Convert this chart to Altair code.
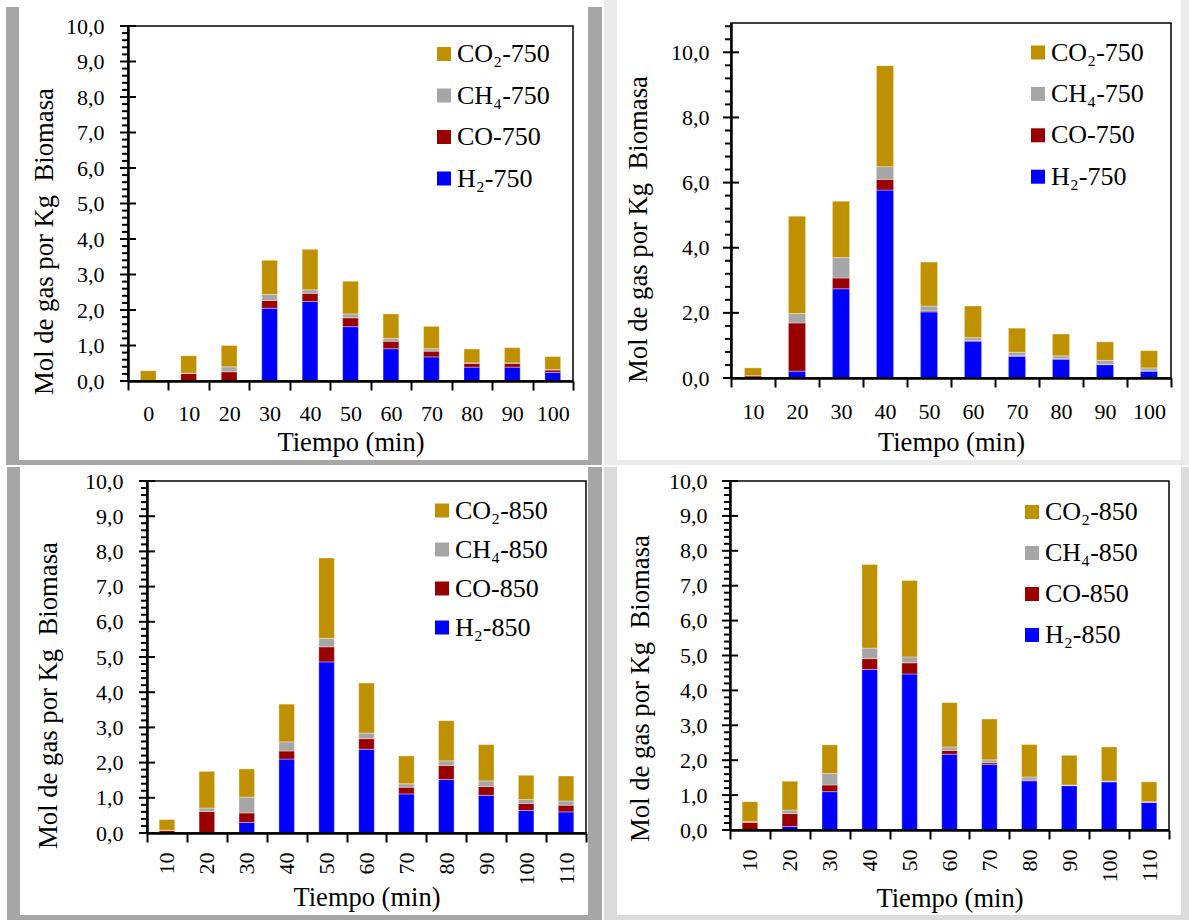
import altair as alt
import pandas as pd

FONT = "Liberation Serif"

# Gas series: legend order (top to bottom) and bar colours
GAS_LEGEND = ["CO₂", "CH₄", "CO", "H₂"]
GAS_COLORS = ["#BF9000", "#A6A6A6", "#990000", "#0000FF"]
# stacking order from the bottom of each bar
GAS_STACK = ["H₂", "CO", "CH₄", "CO₂"]

# --- 750 °C, first run ---
time_a = [0, 10, 20, 30, 40, 50, 60, 70, 80, 90, 100]
h2_a = [0.00, 0.00, 0.00, 2.05, 2.24, 1.53, 0.91, 0.68, 0.39, 0.39, 0.24]
co_a = [0.00, 0.21, 0.26, 0.22, 0.23, 0.25, 0.21, 0.16, 0.11, 0.11, 0.07]
ch4_a = [0.00, 0.01, 0.14, 0.17, 0.10, 0.11, 0.08, 0.07, 0.01, 0.01, 0.01]
co2_a = [0.29, 0.49, 0.60, 0.96, 1.14, 0.92, 0.69, 0.63, 0.39, 0.43, 0.37]

# --- 750 °C, second run ---
time_b = [10, 20, 30, 40, 50, 60, 70, 80, 90, 100]
h2_b = [0.00, 0.21, 2.74, 5.77, 2.03, 1.13, 0.67, 0.58, 0.41, 0.21]
co_b = [0.07, 1.48, 0.33, 0.33, 0.03, 0.02, 0.01, 0.01, 0.01, 0.01]
ch4_b = [0.00, 0.29, 0.63, 0.39, 0.15, 0.09, 0.11, 0.09, 0.12, 0.09]
co2_b = [0.24, 2.99, 1.73, 3.10, 1.35, 0.97, 0.74, 0.67, 0.57, 0.53]

# --- 850 °C, first run ---
time_c = [10, 20, 30, 40, 50, 60, 70, 80, 90, 100, 110]
h2_c = [0.00, 0.00, 0.30, 2.10, 4.86, 2.38, 1.11, 1.52, 1.07, 0.64, 0.60]
co_c = [0.07, 0.61, 0.27, 0.23, 0.43, 0.30, 0.19, 0.40, 0.25, 0.20, 0.19]
ch4_c = [0.01, 0.10, 0.45, 0.26, 0.24, 0.16, 0.10, 0.13, 0.16, 0.11, 0.12]
co2_c = [0.30, 1.04, 0.80, 1.07, 2.28, 1.42, 0.79, 1.14, 1.03, 0.69, 0.71]

# --- 850 °C, second run ---
time_d = [10, 20, 30, 40, 50, 60, 70, 80, 90, 100, 110]
h2_d = [0.00, 0.10, 1.10, 4.60, 4.47, 2.17, 1.88, 1.41, 1.27, 1.38, 0.79]
co_d = [0.22, 0.37, 0.19, 0.31, 0.32, 0.11, 0.05, 0.02, 0.01, 0.01, 0.01]
ch4_d = [0.02, 0.10, 0.33, 0.30, 0.17, 0.10, 0.08, 0.09, 0.01, 0.01, 0.01]
co2_d = [0.57, 0.83, 0.82, 2.40, 2.19, 1.27, 1.17, 0.93, 0.85, 0.98, 0.57]

Y_TITLE = "Mol de gas por Kg\u00a0\u00a0Biomasa"
X_TITLE = "Tiempo (min)"

ONE = pd.DataFrame({"k": [0]})


def long_table(times, h2, co, ch4, co2, temp):
    rows = []
    for gas, vals in zip(GAS_STACK, [h2, co, ch4, co2]):
        for t, v in zip(times, vals):
            rows.append({"t": str(t), "gas": f"{gas}-{temp}",
                         "rank": GAS_STACK.index(gas), "v": v})
    return pd.DataFrame(rows)


def steps(top, step):
    n = int(round(top / step + 1e-9))
    return [round(i * step, 2) for i in range(n + 1)]


def panel(times, h2, co, ch4, co2, temp, *, group, plot, cell, deco, deco_color,
          ymax, major, minor, legend_xy, row_pad, ytitle_xy, xtitle_y,
          ylab_pad, xlab_pad, rotate):
    """One stacked-bar panel.

    group: top-left corner of the view group (page pixels)
    plot:  (left, top, width, height) of the drawn plot box (page pixels)
    cell:  (x0, x1, y0, y1) extent of the panel's white card (page pixels)
    """
    gx, gy = group
    PX, PY, PW, PH = plot
    px, py = PX - gx, PY - gy
    gw, gh = px + PW, py + PH

    df = long_table(times, h2, co, ch4, co2, temp)
    xscale = alt.Scale(paddingInner=0, paddingOuter=0, range=[px, px + PW])
    yscale = alt.Scale(domain=[0, ymax], nice=False, zero=True, range=[py + PH, py])

    majors = steps(ymax // major * major, major)
    minors = [v for v in steps(ymax // minor * minor, minor)
              if all(abs(v - m) > 1e-6 for m in majors)]

    yaxis = alt.Axis(
        title=Y_TITLE, titleFont=FONT, titleFontSize=26.7,
        titleFontWeight="normal", titleColor="black",
        titleAngle=270, titleAlign="center", titleBaseline="middle",
        titleX=ytitle_xy[0] - PX, titleY=ytitle_xy[1] - gy,
        values=majors,
        labelExpr="replace(format(datum.value, '.1f'), '.', ',')",
        labelFont=FONT, labelFontSize=22, labelColor="black",
        labelPadding=ylab_pad, ticks=False, grid=False, offset=-px,
        domainColor="black", domainWidth=2.5, zindex=1)

    xaxis = alt.Axis(
        title=X_TITLE, titleFont=FONT, titleFontSize=26.5,
        titleFontWeight="normal", titleColor="black",
        titleX=PX + PW / 2 - gx, titleY=xtitle_y - (PY + PH),
        titleBaseline="middle",
        labelFont=FONT, labelFontSize=22, labelColor="black",
        labelAngle=270 if rotate else 0, labelPadding=xlab_pad,
        labelOverlap=False,
        tickBand="extent", tickSize=9, tickWidth=2, tickColor="black",
        domainColor="black", domainWidth=2.5, zindex=1)

    def rect(x0, x1, y0, y1, **kw):
        return alt.Chart(ONE).mark_rect(**kw).encode(
            x=alt.value(x0 - gx), x2=alt.value(x1 - gx),
            y=alt.value(y0 - gy), y2=alt.value(y1 - gy))

    layers = [rect(*cell, color="white")]
    for (x0, x1, y0, y1) in deco:
        layers.append(rect(x0, x1, y0, y1, color=deco_color))

    labels = [f"{g}-{temp}" for g in GAS_LEGEND]
    bars = alt.Chart(df).mark_bar(
        width={"band": 0.39}, stroke="white", strokeOpacity=0.35, strokeWidth=1
    ).encode(
        x=alt.X("t:N", sort=[str(t) for t in times], scale=xscale, axis=xaxis),
        y=alt.Y("v:Q", stack="zero", scale=yscale, axis=yaxis),
        color=alt.Color("gas:N", scale=alt.Scale(domain=labels, range=GAS_COLORS),
                        legend=alt.Legend(
                            title=None, orient="none",
                            legendX=legend_xy[0] - gx, legendY=legend_xy[1] - gy,
                            direction="vertical", padding=0,
                            symbolType="square", symbolSize=196,
                            symbolStrokeWidth=0, symbolOpacity=1,
                            labelFont=FONT, labelFontSize=26, labelColor="black",
                            labelOffset=0, rowPadding=row_pad, labelLimit=0)),
        order=alt.Order("rank:Q", sort="ascending"),
    )
    layers.append(bars)

    # major ticks cross the value axis, minor ticks sit outside it
    layers.append(alt.Chart(pd.DataFrame({"v": majors})).mark_rule(
        color="black", strokeWidth=2).encode(
        y=alt.Y("v:Q", scale=yscale, axis=yaxis),
        x=alt.value(px - 8), x2=alt.value(px + 8)))
    layers.append(alt.Chart(pd.DataFrame({"v": minors})).mark_rule(
        color="black", strokeWidth=2).encode(
        y=alt.Y("v:Q", scale=yscale, axis=yaxis),
        x=alt.value(px - 6), x2=alt.value(px)))
    # plot frame
    layers.append(alt.Chart(ONE).mark_rect(
        filled=False, stroke="black", strokeWidth=1.5).encode(
        x=alt.value(px), x2=alt.value(px + PW), y=alt.value(py), y2=alt.value(py + PH)))

    return alt.layer(*layers).properties(width=gw, height=gh)


DARK = "#A6A6A6"

tl = panel(time_a, h2_a, co_a, ch4_a, co2_a, 750,
           group=(128, 23), plot=(128, 26, 445, 355), cell=(0, 602, 0, 466),
           deco=[(6, 19, 7, 465), (588, 602, 7, 465), (6, 602, 460, 465)],
           deco_color=DARK, ymax=10, major=1, minor=0.2,
           legend_xy=(431, 41), row_pad=15.5, ytitle_xy=(44, 241), xtitle_y=442,
           ylab_pad=24, xlab_pad=13.5, rotate=False)

tr = panel(time_b, h2_b, co_b, ch4_b, co2_b, 750,
           group=(730, 23), plot=(731, 23, 440, 355), cell=(602, 1189, 0, 466),
           deco=[(604, 617, 0, 465), (1181, 1189, 0, 465), (604, 1189, 460, 465)],
           deco_color="#EBEBEB", ymax=10.9, major=2, minor=0.4,
           legend_xy=(1025, 39.5), row_pad=15.4, ytitle_xy=(638, 229), xtitle_y=442,
           ylab_pad=22, xlab_pad=14.5, rotate=False)

bl = panel(time_c, h2_c, co_c, ch4_c, co2_c, 850,
           group=(128, 481), plot=(147, 481, 439, 352), cell=(0, 602, 466, 920),
           deco=[(7, 20, 467, 920), (588, 602, 467, 920), (7, 602, 915, 920)],
           deco_color=DARK, ymax=10, major=1, minor=0.2,
           legend_xy=(429, 497.5), row_pad=13, ytitle_xy=(48, 695), xtitle_y=897,
           ylab_pad=24, xlab_pad=10, rotate=True)

br = panel(time_d, h2_d, co_d, ch4_d, co2_d, 850,
           group=(730, 481), plot=(730, 481, 439, 349), cell=(602, 1189, 466, 920),
           deco=[(604, 617, 467, 920), (1181, 1189, 467, 920), (604, 1189, 915, 920)],
           deco_color="#DCDCDC", ymax=10, major=1, minor=0.2,
           legend_xy=(1019, 499), row_pad=15, ytitle_xy=(640, 688), xtitle_y=898,
           ylab_pad=23, xlab_pad=10, rotate=True)

top = alt.hconcat(tl, tr, spacing=0).resolve_scale(color="independent").resolve_legend(color="independent")
bottom = alt.hconcat(bl, br, spacing=0).resolve_scale(color="independent").resolve_legend(color="independent")

chart = (
    alt.vconcat(top, bottom, spacing=0)
    .resolve_scale(color="independent")
    .resolve_legend(color="independent")
    .properties(padding=0, background="white")
    .configure_view(stroke=None)
)

chart.save("out.html", embed_options={"renderer": "svg", "actions": False})
